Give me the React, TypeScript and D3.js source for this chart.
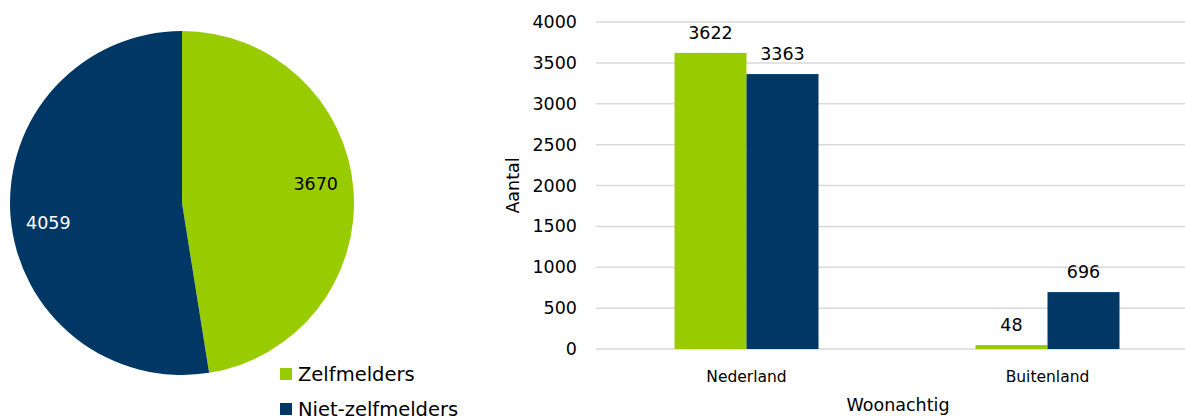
import React from 'react';
import * as d3 from 'd3';

const groupNames = ['Zelfmelders', 'Niet-zelfmelders'];
const groupColors = ['#99cc00', '#003764'];
const pieTotals = [3670, 4059];

const countries = ['Nederland', 'Buitenland'];
const zelfmelders = [3622, 48];
const nietZelfmelders = [3363, 696];
const yTickValues = [0, 500, 1000, 1500, 2000, 2500, 3000, 3500, 4000];

const width = 1185;
const height = 417;
const font = 'Verdana, "DejaVu Sans", sans-serif';

// pie
const pieCx = 182;
const pieCy = 203;
const pieR = 172;

// bars
const plotLeft = 596;
const plotRight = 1198;
const plotTop = 22;
const plotBottom = 349;

const PieChart = () => {
  const pie = d3.pie<number>().sort(null).value(d => d);
  const arcs = pie(pieTotals);
  const arc = d3.arc<d3.PieArcDatum<number>>().innerRadius(0).outerRadius(pieR);
  const labelArc = d3.arc<d3.PieArcDatum<number>>().innerRadius(pieR * 0.78).outerRadius(pieR * 0.78);
  return (
    <g transform={`translate(${pieCx}, ${pieCy})`}>
      {arcs.map((a, i) => (
        <path key={i} d={arc(a) as string} fill={groupColors[i]} />
      ))}
      {arcs.map((a, i) => {
        const [x, y] = labelArc.centroid(a);
        return (
          <text key={'l' + i} x={x} y={y + (i === 0 ? -8 : 9)} textAnchor="middle" dominantBaseline="central"
            fontSize={17.5} fill={i === 0 ? '#000' : '#fff'}>{pieTotals[i]}</text>
        );
      })}
    </g>
  );
};

const Legend = () => (
  <g>
    {groupNames.map((name, i) => (
      <g key={name} transform={`translate(280, ${368 + i * 35})`}>
        <rect width={12} height={12} fill={groupColors[i]} />
        <text x={18} y={13} fontSize={19.5} fill="#000">{name}</text>
      </g>
    ))}
  </g>
);

const BarChart = () => {
  const x0 = d3.scaleBand<string>().domain(countries).range([plotLeft, plotRight]);
  const y = d3.scaleLinear().domain([0, 4000]).range([plotBottom, plotTop]);
  const series = [zelfmelders, nietZelfmelders];
  const barW = 72;
  return (
    <g>
      {yTickValues.map(v => (
        <g key={v}>
          <line x1={plotLeft} x2={plotRight} y1={y(v)} y2={y(v)} stroke="#d9d9d9" strokeWidth={1.5} />
          <text x={577} y={y(v)} textAnchor="end" dominantBaseline="central" fontSize={17.5} fill="#000">{v}</text>
        </g>
      ))}
      {countries.map((c, ci) => {
        const center = (x0(c) as number) + x0.bandwidth() / 2;
        return (
          <g key={c}>
            {series.map((s, si) => {
              const bx = center + (si - 1) * barW;
              return (
                <g key={si}>
                  <rect x={bx} y={y(s[ci])} width={barW} height={y(0) - y(s[ci])} fill={groupColors[si]} />
                  <text x={bx + barW / 2} y={y(s[ci]) - 14} textAnchor="middle" fontSize={17.5} fill="#000">{s[ci]}</text>
                </g>
              );
            })}
            <text x={center} y={382} textAnchor="middle" fontSize={15.5} fill="#000">{c}</text>
          </g>
        );
      })}
      <text x={898} y={411} textAnchor="middle" fontSize={17.5} fill="#000">Woonachtig</text>
      <text transform={`translate(513, ${(plotTop + plotBottom) / 2}) rotate(-90)`} textAnchor="middle"
        dominantBaseline="central" fontSize={17.5} fill="#000">Aantal</text>
    </g>
  );
};

const App = () => (
  <svg width={width} height={height} style={{ position: 'absolute', left: 0, top: 0, background: '#fff', fontFamily: font }}>
    <PieChart />
    <Legend />
    <BarChart />
  </svg>
);

export default App;
